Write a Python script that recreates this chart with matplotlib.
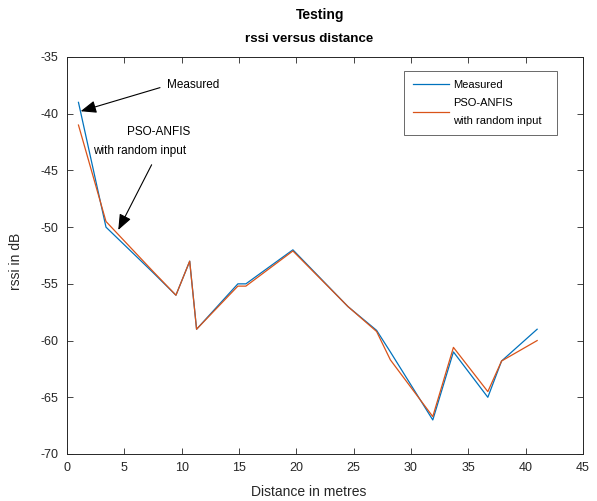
import matplotlib
matplotlib.use("Agg")
import matplotlib.pyplot as plt

plt.rcParams['font.family'] = ['Liberation Sans', 'DejaVu Sans']
plt.rcParams['axes.unicode_minus'] = False

# distance (m) and rssi (dB)
distance = [1.0, 3.4, 7.5, 9.5, 10.7, 11.3, 14.9, 15.6, 19.7, 24.5, 27.0, 28.2, 31.9, 33.7, 36.7, 37.9, 41.0]
measured = [-39.0, -50.0, -54.0, -56.0, -53.0, -59.0, -55.0, -55.0, -52.0, -57.0, -59.1, -61.0, -67.0, -61.0, -65.0, -61.8, -59.0]
pso_anfis = [-41.0, -49.5, -53.9, -56.0, -53.0, -59.0, -55.2, -55.2, -52.1, -57.0, -59.2, -61.7, -66.7, -60.6, -64.5, -61.8, -60.0]

x_ticks = [0, 5, 10, 15, 20, 25, 30, 35, 40, 45]
y_ticks = [-70, -65, -60, -55, -50, -45, -40, -35]

BLUE = '#0072BD'
ORANGE = '#D95319'
AXC = '#262626'

fig = plt.figure(figsize=(5.97, 5.01), dpi=100)
ax = fig.add_axes([67 / 597, 1 - 454 / 501, (583 - 67) / 597, (454 - 57) / 501])

ax.plot(distance, measured, color=BLUE, lw=0.9, label='Measured')
ax.plot(distance, pso_anfis, color=ORANGE, lw=0.9, label='PSO-ANFIS\nwith random input')

ax.set_xlim(0, 45)
ax.set_ylim(-70, -35)
ax.set_xticks(x_ticks)
ax.set_yticks(y_ticks)
ax.tick_params(direction='in', top=True, right=True, length=4, width=0.6,
               colors=AXC, labelsize=9, pad=6)
for s in ax.spines.values():
    s.set_color(AXC)
    s.set_linewidth(0.7)

ax.set_xlabel('Distance in metres', fontsize=10, color=AXC)
ax.xaxis.set_label_coords(0.469, -0.078)
ax.set_ylabel('rssi in dB', fontsize=10, color=AXC)
ax.yaxis.set_label_coords(-0.086, 0.486)

ax.text(0.49, 1.0 + 42 / 397, 'Testing', transform=ax.transAxes, ha='center',
        va='center', fontsize=10, fontweight='bold', color='black')
ax.text(0.47, 1.0 + 18 / 397, 'rssi versus distance', transform=ax.transAxes,
        ha='center', va='center', fontsize=9.6, fontweight='bold', color='black')

arrow = dict(arrowstyle='-|>,head_length=0.95,head_width=0.38', color='black',
             lw=0.8, shrinkA=0, shrinkB=0)
ax.annotate('', xy=(1.19, -39.78), xytext=(8.11, -37.7), arrowprops=arrow)
ax.text(8.72, -37.44, 'Measured', fontsize=8.5, ha='left', va='center')
ax.annotate('', xy=(4.47, -50.25), xytext=(7.38, -44.5), arrowprops=arrow)
ax.text(8.02, -41.6, 'PSO-ANFIS', fontsize=8.5, ha='center', va='center')
ax.text(6.32, -43.3, 'with random input', fontsize=8.5, ha='center', va='center')

leg = ax.legend(loc='upper right', bbox_to_anchor=(1 - 26 / 516, 1 - 14 / 397),
                fontsize=8, frameon=True, fancybox=False, edgecolor=AXC,
                handlelength=3.3, handletextpad=0.35, borderpad=0.8,
                labelspacing=0.7, borderaxespad=0)
leg.get_frame().set_linewidth(0.6)
leg.get_texts()[1].set_linespacing(2.0)
leg.get_texts()[1].set_text('PSO-ANFIS\nwith random input  ')

fig.savefig('out.png', dpi=100)
